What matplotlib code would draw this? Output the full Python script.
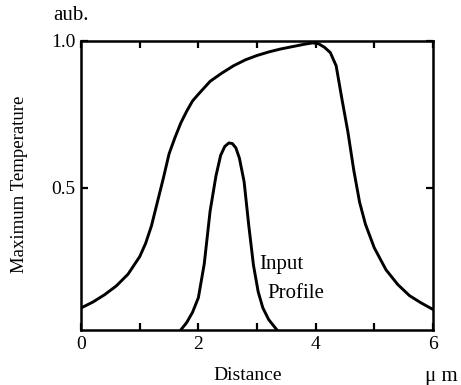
import matplotlib
matplotlib.use('Agg')
import matplotlib.pyplot as plt
from matplotlib.ticker import FixedLocator

plt.rcParams['font.family'] = ['Liberation Serif', 'DejaVu Serif']

# broad curve (output temperature profile)
out_x = [0.0, 0.2, 0.4, 0.6, 0.8, 1.0, 1.1, 1.2, 1.3, 1.4, 1.5, 1.6, 1.7, 1.8, 1.9, 2.0,
         2.2, 2.4, 2.6, 2.8, 3.0, 3.2, 3.4, 3.6, 3.8, 3.95, 4.05, 4.15, 4.25, 4.35, 4.45,
         4.55, 4.65, 4.75, 4.85, 5.0, 5.2, 5.4, 5.6, 5.8, 6.0]
out_y = [0.09, 0.11, 0.135, 0.165, 0.205, 0.265, 0.31, 0.37, 0.45, 0.53, 0.615, 0.67, 0.72,
         0.76, 0.795, 0.818, 0.862, 0.89, 0.915, 0.935, 0.95, 0.962, 0.972, 0.98, 0.988,
         0.993, 0.99, 0.978, 0.96, 0.915, 0.80, 0.69, 0.56, 0.45, 0.375, 0.295, 0.22, 0.17,
         0.132, 0.107, 0.085]

# narrow curve (input profile)
in_x = [1.70, 1.80, 1.90, 2.00, 2.10, 2.20, 2.30, 2.38, 2.45, 2.52, 2.58, 2.64, 2.70, 2.78,
        2.86, 2.94, 3.02, 3.10, 3.20, 3.34]
in_y = [0.015, 0.04, 0.075, 0.125, 0.24, 0.42, 0.54, 0.61, 0.64, 0.652, 0.65, 0.635, 0.60,
        0.52, 0.37, 0.235, 0.145, 0.09, 0.05, 0.015]

xticks = [0, 2, 4, 6]
yticks = [0.5, 1.0]

fig = plt.figure(figsize=(4.61, 3.85), dpi=100)
ax = fig.add_axes([0.176, 0.143, 0.763, 0.751])

ax.plot(out_x, out_y, color='black', linewidth=2.1, solid_joinstyle='round')
ax.plot(in_x, in_y, color='black', linewidth=2.1, solid_joinstyle='round')

ax.set_xlim(0, 6)
ax.set_ylim(0.015, 1.0)
ax.set_xticks(xticks)
ax.set_xticklabels([str(t) for t in xticks])
ax.xaxis.set_minor_locator(FixedLocator([1, 3, 5]))
ax.set_yticks(yticks)
ax.set_yticklabels(['0.5', '1.0'])
ax.tick_params(which='both', direction='in', top=True, right=True, length=5, width=1.6,
               labelsize=14, pad=4)
for s in ax.spines.values():
    s.set_linewidth(1.8)

ax.text(3.03, 0.238, 'Input', fontsize=15, ha='left', va='center')
ax.text(3.17, 0.140, 'Profile', fontsize=15, ha='left', va='center')

fig.text(71 / 461, 1 - 15 / 385, 'aub.', fontsize=15, ha='center', va='center')
fig.text(19 / 461, 1 - 184 / 385, 'Maximum Temperature', fontsize=13.5, rotation=90,
         ha='center', va='center')
fig.text(248 / 461, 1 - 375 / 385, 'Distance', fontsize=14, ha='center', va='center')
fig.text(441 / 461, 1 - 376 / 385, '\u03bc m', fontsize=15, ha='center', va='center')

fig.savefig('out.png', dpi=100)
